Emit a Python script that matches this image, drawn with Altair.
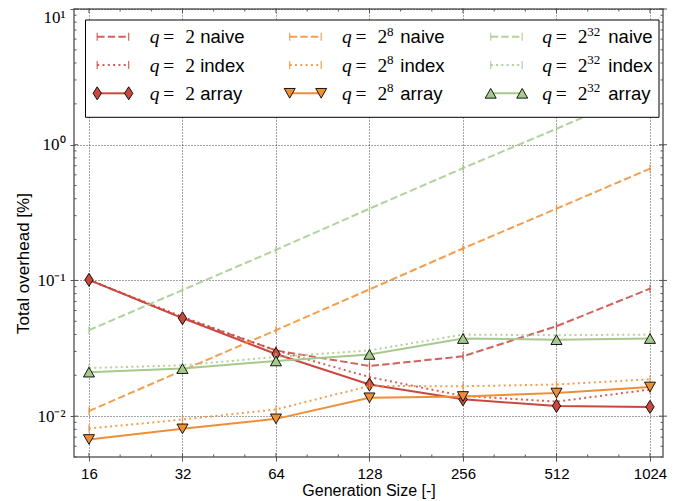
import altair as alt
import pandas as pd

# ---------------- data ----------------
sizes = [16, 32, 64, 128, 256, 512, 1024]

q2_naive = [0.101, 0.053, 0.0305, 0.0234, 0.0276, 0.046, 0.087]
q2_index = [0.101, 0.054, 0.0305, 0.0194, 0.0141, 0.0128, 0.0157]
q2_array = [0.101, 0.0527, 0.0287, 0.0171, 0.0133, 0.0119, 0.0117]

q8_naive = [0.0109, 0.0217, 0.043, 0.0859, 0.172, 0.338, 0.666]
q8_index = [0.0081, 0.00945, 0.0112, 0.0167, 0.0166, 0.0171, 0.0187]
q8_array = [0.00673, 0.00806, 0.00955, 0.01365, 0.01396, 0.0148, 0.0164]

q32_naive = [0.043, 0.0849, 0.168, 0.338, 0.672, 1.31, 2.6]
q32_index = [0.0226, 0.0237, 0.0273, 0.0305, 0.0399, 0.0395, 0.0399]
q32_array = [0.0211, 0.0224, 0.0255, 0.0285, 0.0373, 0.0366, 0.0373]

group_keys = ["q2", "q8", "q32"]
group_sups = ["", "8", "32"]
kinds = ["naive", "index", "array"]
group_series = [
    [q2_naive, q2_index, q2_array],
    [q8_naive, q8_index, q8_array],
    [q32_naive, q32_index, q32_array],
]

y_tick_values = [0.01, 0.1, 1, 10]
y_tick_labels = ["10\u207b\u00b2", "10\u207b\u00b9", "10\u2070", "10\u00b9"]

# ---------------- styles ----------------
group_colors = ["#c9483f", "#ee8f35", "#a6c98c"]
shapes = [
    "M0,-1L0.64,0L0,1L-0.64,0Z",        # thin diamond
    "M-1,-0.88L1,-0.88L0,0.88Z",        # triangle down
    "M-1,0.88L1,0.88L0,-0.88Z",         # triangle up
]
shape_sizes = [169, 121, 121]
dash_naive = [7.4, 3.2]
dash_index = [2, 3.3]
LW = 2

W, H = 589, 448
xscale = alt.Scale(type="log", base=2, domain=[14.32, 1127.6], nice=False)
yscale = alt.Scale(type="log", base=10, domain=[0.005, 10], nice=False)

label_expr = " : ".join(
    f"datum.value == {v} ? '{l}'" for v, l in zip(y_tick_values[::-1], y_tick_labels[::-1])
) + " : ''"

xaxis = alt.Axis(
    values=sizes, format="d", labelFont="Liberation Sans", labelFontSize=15,
    labelColor="black", labelPadding=5, labelOverlap=False, labelFlush=False,
    tickSize=4, tickColor="#555", tickWidth=1,
    grid=True, gridColor="black", gridDash=[1, 2], gridWidth=0.8, gridOpacity=0.9,
    domain=False,
    title="Generation Size [-]", titleFont="Liberation Sans", titleFontSize=16,
    titleFontWeight="normal", titleColor="black", titleY=38.5, titleX=W / 2,
    titleBaseline="alphabetic", titleAlign="center",
)
yaxis = alt.Axis(
    values=y_tick_values, labelExpr=label_expr, labelFont="Liberation Serif",
    labelFontSize=17, labelColor="black", labelPadding=5, labelOverlap=False,
    labelFlush=False,
    labelBaseline={"condition": {"test": "datum.value == 10", "value": "top"},
                   "value": "middle"},
    tickSize=4, tickColor="#555", tickWidth=1,
    grid=True, gridColor="black", gridDash=[1, 2], gridWidth=0.8, gridOpacity=0.9,
    domain=False,
    title="Total overhead [%]", titleFont="Liberation Sans", titleFontSize=17,
    titleFontWeight="normal", titleColor="black", titleAngle=-90,
    titleX=-51, titleY=254, titleAlign="center", titleBaseline="middle",
)

X = alt.X("size:Q", scale=xscale, axis=xaxis)
Y = alt.Y("value:Q", scale=yscale, axis=yaxis)

layers = []

# ---------------- data layers ----------------
for gi, gk in enumerate(group_keys):
    color = group_colors[gi]
    for ki, kind in enumerate(kinds):
        df = pd.DataFrame({"size": sizes, "value": group_series[gi][ki]})
        base = alt.Chart(df).encode(x=X, y=Y)
        if kind == "array":
            layers.append(base.mark_line(color=color, strokeWidth=LW, clip=True))
            layers.append(base.mark_point(
                shape=shapes[gi], size=shape_sizes[gi], filled=True, fill=color,
                stroke="black", strokeWidth=0.9, opacity=1, clip=True))
        else:
            dash = dash_naive if kind == "naive" else dash_index
            layers.append(base.mark_line(color=color, strokeWidth=LW,
                                         strokeDash=dash, opacity=0.85, clip=True))
            layers.append(base.mark_tick(orient="vertical", size=8, thickness=1.2,
                                         color=color, opacity=0.85, clip=True))

# ---------------- frame ticks (inward + outward) ----------------
tick_color = "#555"
y_minor = [k * 10.0 ** e for e in range(-3, 1) for k in range(2, 10)
           if 0.005 <= k * 10.0 ** e <= 10]
x_minor = [2 ** (n + f) for n in range(3, 11) for f in (1 / 3, 2 / 3)
           if 14.32 <= 2 ** (n + f) <= 1127.6]

ymaj = pd.DataFrame({"value": y_tick_values})
ymin = pd.DataFrame({"value": y_minor})
xmaj = pd.DataFrame({"size": sizes})
xmin = pd.DataFrame({"size": x_minor})

for d, ln in ((ymaj, 4), (ymin, 2.5)):
    layers.append(alt.Chart(d).mark_rule(color=tick_color, strokeWidth=1).encode(
        y=Y, x=alt.value(0), x2=alt.value(ln)))
    layers.append(alt.Chart(d).mark_rule(color=tick_color, strokeWidth=1).encode(
        y=Y, x=alt.value(W - ln), x2=alt.value(W + (4 if ln == 4 else 0))))
for d, ln in ((xmaj, 4), (xmin, 2.5)):
    layers.append(alt.Chart(d).mark_rule(color=tick_color, strokeWidth=1).encode(
        x=X, y=alt.value(H), y2=alt.value(H - ln)))
    layers.append(alt.Chart(d).mark_rule(color=tick_color, strokeWidth=1).encode(
        x=X, y=alt.value(0 - (4 if ln == 4 else 0)), y2=alt.value(ln)))

# ---------------- legend (hand-built, pixel layout) ----------------
one = pd.DataFrame({"k": [0]})
leg_box = (11.5, 585.0, 11.0, 108.3)
layers.append(alt.Chart(one).mark_rect(fill="white", stroke="black", strokeWidth=1).encode(
    x=alt.value(leg_box[0]), x2=alt.value(leg_box[1]),
    y=alt.value(leg_box[2]), y2=alt.value(leg_box[3])))

row_y = [27.7, 56.0, 84.3]
handle_x0 = [23.2, 215.7, 416.7]
handle_len = 31.5
q_x = [75.7, 268.0, 468.2]
word_x = [126.2, 326.3, 534.3]
FS = 18.5


def txt(s, x, y, font, size, style="normal"):
    return alt.Chart(one).mark_text(
        text=s, font=font, fontSize=size, fontStyle=style, color="black",
        align="left", baseline="alphabetic").encode(x=alt.value(x), y=alt.value(y))


for gi in range(3):
    color = group_colors[gi]
    for ki, kind in enumerate(kinds):
        y = row_y[ki]
        x0 = handle_x0[gi]
        x1 = x0 + handle_len
        if kind == "array":
            layers.append(alt.Chart(one).mark_rule(color=color, strokeWidth=LW).encode(
                x=alt.value(x0), x2=alt.value(x1), y=alt.value(y), y2=alt.value(y)))
            for xx in (x0, x1):
                layers.append(alt.Chart(one).mark_point(
                    shape=shapes[gi], size=shape_sizes[gi], filled=True, fill=color,
                    stroke="black", strokeWidth=0.9, opacity=1).encode(
                    x=alt.value(xx), y=alt.value(y)))
        else:
            dash = dash_naive if kind == "naive" else dash_index
            layers.append(alt.Chart(one).mark_rule(
                color=color, strokeWidth=LW, strokeDash=dash, opacity=0.85).encode(
                x=alt.value(x0), x2=alt.value(x1), y=alt.value(y), y2=alt.value(y)))
            for xx in (x0, x1):
                layers.append(alt.Chart(one).mark_rule(
                    color=color, strokeWidth=1.2, opacity=0.85).encode(
                    x=alt.value(xx), y=alt.value(y - 4), y2=alt.value(y + 4)))
        by = y + 6.6
        qx = q_x[gi]
        layers.append(txt("q", qx, by, "Liberation Serif", FS + 1, "italic"))
        layers.append(txt("=", qx + 13.6, by, "Liberation Serif", FS + 1))
        layers.append(txt("2", qx + 35.5, by, "Liberation Serif", FS + 1))
        if group_sups[gi]:
            layers.append(txt(group_sups[gi], qx + 45, by - 7.5, "Liberation Serif", 13))
        layers.append(txt(kind, word_x[gi], by, "Liberation Sans", FS))

chart = alt.layer(*layers).properties(
    width=W, height=H,
    autosize=alt.AutoSizeParams(type="none"),
    padding={"left": 66, "top": 1, "right": 20, "bottom": 42},
).configure_view(stroke="#666", strokeWidth=1.5)

chart.save("out.html", embed_options={"renderer": "svg", "actions": False})
